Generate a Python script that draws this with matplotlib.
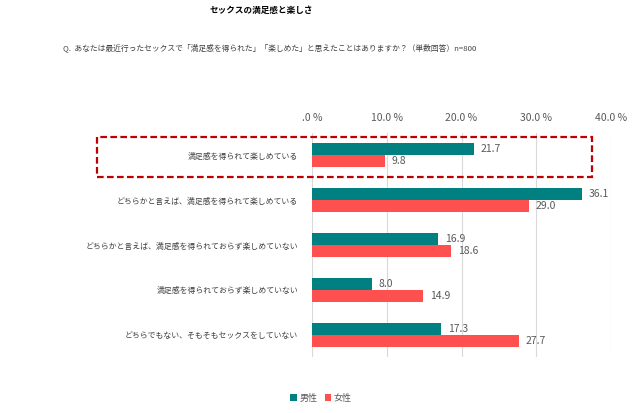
import numpy as np
import matplotlib
matplotlib.use("Agg")
import matplotlib.pyplot as plt
import matplotlib.patches as patches

plt.rcParams['font.family'] = ['Noto Sans CJK JP', 'DejaVu Sans']

categories = [
    "満足感を得られて楽しめている",
    "どちらかと言えば、満足感を得られて楽しめている",
    "どちらかと言えば、満足感を得られておらず楽しめていない",
    "満足感を得られておらず楽しめていない",
    "どちらでもない、そもそもセックスをしていない",
]
male = [21.7, 36.1, 16.9, 8.0, 17.3]
female = [9.8, 29.0, 18.6, 14.9, 27.7]
ticks = [0, 10, 20, 30, 40]
tick_labels = [".0 %", "10.0 %", "20.0 %", "30.0 %", "40.0 %"]

c_male = "#008080"
c_female = "#FF5050"
txt = "#595959"

fig = plt.figure(figsize=(6.39, 4.13), dpi=100)
ax = fig.add_axes([312 / 639, 1 - 357 / 413, 299 / 639, 224 / 413])

y = np.arange(len(categories))
h = 0.27
ax.barh(y - h / 2, male, height=h, color=c_male, label="男性", zorder=3)
ax.barh(y + h / 2, female, height=h, color=c_female, label="女性", zorder=3)

for i in range(len(categories)):
    ax.text(male[i] + 0.9, y[i] - h / 2, "%.1f" % male[i], va="center", ha="left",
            fontsize=7.5, color=txt)
    ax.text(female[i] + 0.9, y[i] + h / 2, "%.1f" % female[i], va="center", ha="left",
            fontsize=7.5, color=txt)

ax.set_xlim(0, 40)
ax.set_ylim(len(categories) - 0.5, -0.5)
ax.set_xticks(ticks)
ax.set_xticklabels(tick_labels)
ax.xaxis.tick_top()
ax.tick_params(axis="x", length=0, labelsize=7.5, labelcolor=txt, pad=7)
ax.set_yticks(y)
ax.set_yticklabels(categories)
ax.tick_params(axis="y", length=0, labelsize=5.7, labelcolor="#404040", pad=10)
ax.grid(axis="x", color="#D9D9D9", linewidth=0.8, zorder=0)
for s in ax.spines.values():
    s.set_visible(False)

# dashed highlight box around first category
box = patches.Rectangle((97 / 639, 1 - 177 / 413), 495 / 639, 40 / 413,
                        transform=fig.transFigure, fill=False, edgecolor="#C00000",
                        linestyle=(0, (3, 1.5)), linewidth=1.6)
fig.patches.append(box)

fig.text(261 / 639, 1 - 10 / 413, "セックスの満足感と楽しさ", ha="center", va="center",
         fontsize=6.2, fontweight="bold", color="#000000")
fig.text(63 / 639, 1 - 48 / 413,
         "Q.  あなたは最近行ったセックスで「満足感を得られた」「楽しめた」と思えたことはありますか？（単数回答）n=800",
         ha="left", va="center", fontsize=5.6, color="#404040")

fig.legend(loc="center", bbox_to_anchor=(321 / 639, 1 - 398 / 413), ncol=2, frameon=False,
           fontsize=6.5, handlelength=0.7, handleheight=0.7, handletextpad=0.3,
           columnspacing=0.8, labelcolor=txt)

fig.savefig("out.png", dpi=100)
